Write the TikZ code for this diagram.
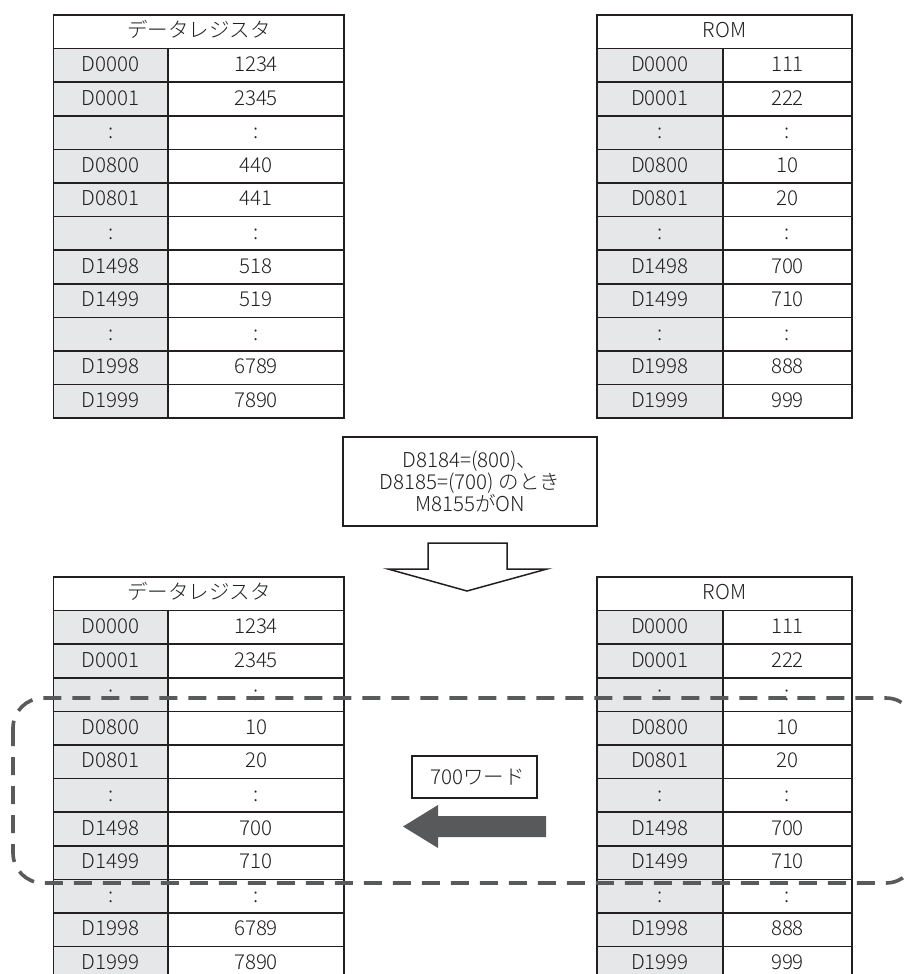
\documentclass[tikz,border=0pt]{standalone}
\usepackage{fontspec}
\setmainfont{Noto Sans CJK JP Light}
\usepackage{xcolor}
\usepackage{tikz}
\usetikzlibrary{calc,positioning}
\definecolor{CellGray}{HTML}{E6E7E8}
\definecolor{InkDark}{HTML}{231F20}
\definecolor{ZoneGray}{HTML}{595A5C}
\definecolor{ArrowGray}{HTML}{58595B}

\tikzset{
  tblline/.style={draw=InkDark,line width=1.5pt},
  celltext/.style={text=InkDark,inner sep=0pt,anchor=base,font=\fontsize{20.5}{24}\selectfont},
  boxnote/.style={draw=InkDark,line width=1.5pt,fill=white,align=center,text=InkDark,font=\fontsize{20.5}{22}\selectfont}
}

% #1 name, #2 left x, #3 split x, #4 right x, #5 top y, #6 title, #7 rows
\newcommand{\regtable}[7]{%
  \draw[tblline,fill=white] (#2,#5) rectangle (#4,#5+33.6);
  \node[celltext] (#1-title) at ({(#2+#4)/2},#5+22.8) {#6};
  \foreach \lbl/\val [count=\i] in {#7} {
    \pgfmathsetmacro\yt{#5+33.6*\i}
    \fill[CellGray] (#2,\yt) rectangle (#3,\yt+33.6);
    \draw[tblline] (#2,\yt) rectangle (#3,\yt+33.6) (#3,\yt) rectangle (#4,\yt+33.6);
    \node[celltext] (#1-a\i) at ({(#2+#3)/2},\yt+22.8) {\lbl};
    \node[celltext] (#1-b\i) at ({(#3+#4)/2},\yt+22.8) {\val};
  }
}

\begin{document}
\begin{tikzpicture}[x=1pt,y=-1pt]
  \useasboundingbox (0,0) rectangle (904,974);
  \clip (0,0) rectangle (904,974);

  % before
  \regtable{dregA}{53.5}{168}{344}{15}{データレジスタ}{D0000/1234, D0001/2345, :/:, D0800/440, D0801/441, :/:, D1498/518, D1499/519, :/:, D1998/6789, D1999/7890}
  \regtable{romA}{597}{723}{852}{15}{ROM}{D0000/111, D0001/222, :/:, D0800/10, D0801/20, :/:, D1498/700, D1499/710, :/:, D1998/888, D1999/999}

  % condition
  \node[boxnote,minimum width=254pt,minimum height=89pt] (cond) at (470,481.5)
    {D8184=(800)、\\D8185=(700) のとき\\M8155がON};
  \draw[InkDark,line width=1.5pt,fill=white]
    (428,543) -- (507,543) -- (507,569) -- (547,569) -- (467,591)
    -- (388,569) -- (428,569) -- cycle;

  % after
  \regtable{dregB}{53.5}{168}{344}{577}{データレジスタ}{D0000/1234, D0001/2345, :/:, D0800/10, D0801/20, :/:, D1498/700, D1499/710, :/:, D1998/6789, D1999/7890}
  \regtable{romB}{597}{723}{852}{577}{ROM}{D0000/111, D0001/222, :/:, D0800/10, D0801/20, :/:, D1498/700, D1499/710, :/:, D1998/888, D1999/999}

  % copied range
  \draw[ZoneGray,line width=3.6pt,dash pattern=on 18pt off 11pt,rounded corners=30pt]
    (13,698) rectangle (916,883);

  \node[boxnote,minimum width=125pt,minimum height=42pt] (words) at (474.5,777) {\hspace{6pt}700ワード};
  \fill[ArrowGray] (546,816) -- (438,816) -- (438,805) -- (403,826.5)
    -- (438,848) -- (438,837) -- (546,837) -- cycle;
\end{tikzpicture}
\end{document}
